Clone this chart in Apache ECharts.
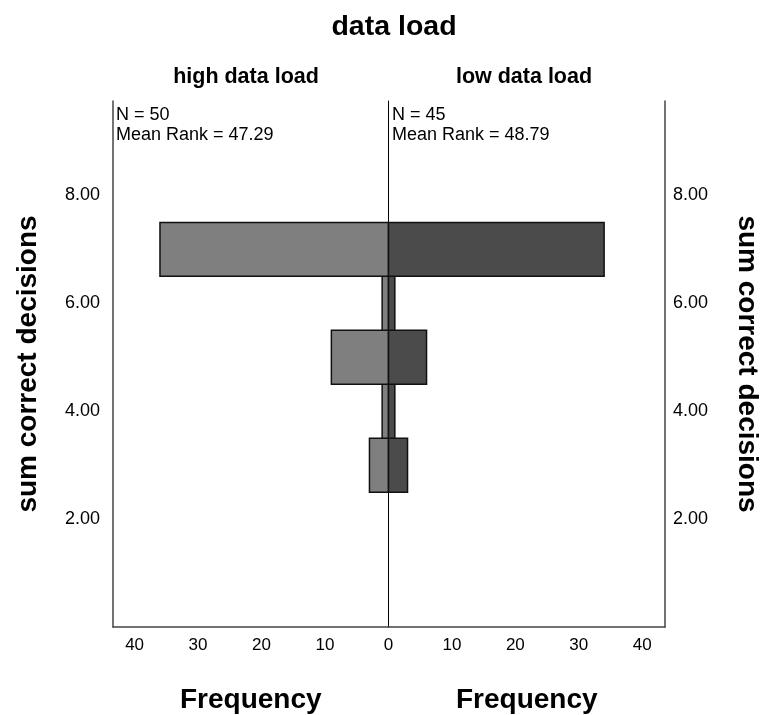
<!DOCTYPE html>
<html>
<head>
<meta charset="utf-8">
<script src="https://cdn.jsdelivr.net/npm/echarts@6/dist/echarts.min.js"></script>
<style>html,body{margin:0;padding:0;background:#fff}#c{width:766px;height:715px}</style>
</head>
<body>
<div id="c"></div>
<script>
const scoreLevels = [3, 4, 5, 6, 7];
const highLoadFreq = [3, 1, 9, 1, 36];
const lowLoadFreq = [3, 1, 6, 1, 34];
const yTickLabels = ['2.00', '4.00', '6.00', '8.00'];
const freqTicks = [0, 10, 20, 30, 40];
const groupNames = ['high data load', 'low data load'];
const groupStats = [['N = 50', 'Mean Rank = 47.29'], ['N = 45', 'Mean Rank = 48.79']];

const FONT = '"Liberation Sans", Arial, sans-serif';
const chart = echarts.init(document.getElementById('c'));

function rectItem(params, api) {
  const y = api.value(0), v = api.value(1);
  const p0 = api.coord([0, y + 0.5]);
  const p1 = api.coord([v, y - 0.5]);
  const x = Math.min(p0[0], p1[0]);
  return {
    type: 'rect',
    shape: { x: x, y: p0[1], width: Math.abs(p1[0] - p0[0]), height: p1[1] - p0[1] },
    style: api.style()
  };
}

const yLabelFmt = v => {
  const s = v.toFixed(2);
  return yTickLabels.indexOf(s) >= 0 ? s : '';
};
const xLabelFmt = v => (freqTicks.indexOf(v) >= 0 ? String(v) : '');

const yBase = {
  type: 'value', min: 0, max: 9.75, interval: 2,
  splitLine: { show: false }, axisTick: { show: false }
};
const bigText = { fontFamily: FONT, fontSize: 28, fontWeight: 'bold', color: '#000' };

chart.setOption({
  animation: false,
  title: [
    { text: 'data load', left: 389, top: 8, textAlign: 'center',
      textStyle: { fontFamily: FONT, fontSize: 28.5, fontWeight: 'bold', color: '#000' } },
    { text: groupNames[0], left: 241, top: 61, textAlign: 'center',
      textStyle: { fontFamily: FONT, fontSize: 21.5, fontWeight: 'bold', color: '#000' } },
    { text: groupNames[1], left: 519, top: 61, textAlign: 'center',
      textStyle: { fontFamily: FONT, fontSize: 21.5, fontWeight: 'bold', color: '#000' } }
  ],
  grid: [
    { left: 113, top: 101, width: 275.5, height: 526, outerBoundsMode: 'none', containLabel: false },
    { left: 388.5, top: 101, width: 276.5, height: 526, outerBoundsMode: 'none', containLabel: false }
  ],
  xAxis: [
    { gridIndex: 0, type: 'value', inverse: true, min: 0, max: 43.4,
      interval: 10, splitLine: { show: false }, axisTick: { show: false },
      axisLine: { lineStyle: { color: '#444', width: 1.5 } },
      axisLabel: { formatter: xLabelFmt, margin: 10, fontFamily: FONT, fontSize: 17, color: '#000' },
      name: 'Frequency', nameLocation: 'middle', nameGap: 59, nameTextStyle: bigText },
    { gridIndex: 1, type: 'value', min: 0, max: 43.6,
      interval: 10, splitLine: { show: false }, axisTick: { show: false },
      axisLine: { lineStyle: { color: '#444', width: 1.5 } },
      axisLabel: { formatter: v => (v === 0 ? '' : xLabelFmt(v)), margin: 10, fontFamily: FONT, fontSize: 17, color: '#000' },
      name: 'Frequency', nameLocation: 'middle', nameGap: 59, nameTextStyle: bigText }
  ],
  yAxis: [
    Object.assign({}, yBase, { gridIndex: 0, position: 'left',
      axisLine: { show: true, onZero: false, lineStyle: { color: '#444', width: 1.5 } },
      axisLabel: { formatter: yLabelFmt, margin: 13, fontFamily: FONT, fontSize: 18, color: '#000' },
      name: 'sum correct decisions', nameLocation: 'middle', nameGap: 71, nameTextStyle: bigText }),
    Object.assign({}, yBase, { gridIndex: 1, position: 'right',
      axisLine: { show: true, onZero: false, lineStyle: { color: '#444', width: 1.5 } },
      axisLabel: { formatter: yLabelFmt, margin: 8, fontFamily: FONT, fontSize: 18, color: '#000' },
      name: 'sum correct decisions', nameLocation: 'middle', nameGap: 68, nameRotate: -90,
      nameTextStyle: bigText }),
    Object.assign({}, yBase, { gridIndex: 1, position: 'left',
      axisLine: { show: true, onZero: false, lineStyle: { color: '#000', width: 1 } },
      axisLabel: { show: false } })
  ],
  graphic: [
    { type: 'text', left: 116, top: 105, style: { text: groupStats[0].join('\n'), font: '18px ' + FONT, fill: '#000', lineHeight: 20 } },
    { type: 'text', left: 392, top: 105, style: { text: groupStats[1].join('\n'), font: '18px ' + FONT, fill: '#000', lineHeight: 20 } }
  ],
  series: [
    { type: 'custom', xAxisIndex: 0, yAxisIndex: 0, renderItem: rectItem,
      encode: { x: 1, y: 0 },
      itemStyle: { color: '#7f7f7f', borderColor: '#111', borderWidth: 1.5 },
      data: scoreLevels.map((s, i) => [s, highLoadFreq[i]]) },
    { type: 'custom', xAxisIndex: 1, yAxisIndex: 1, renderItem: rectItem,
      encode: { x: 1, y: 0 },
      itemStyle: { color: '#4b4b4b', borderColor: '#111', borderWidth: 1.5 },
      data: scoreLevels.map((s, i) => [s, lowLoadFreq[i]]) }
  ]
});
</script>
</body>
</html>
